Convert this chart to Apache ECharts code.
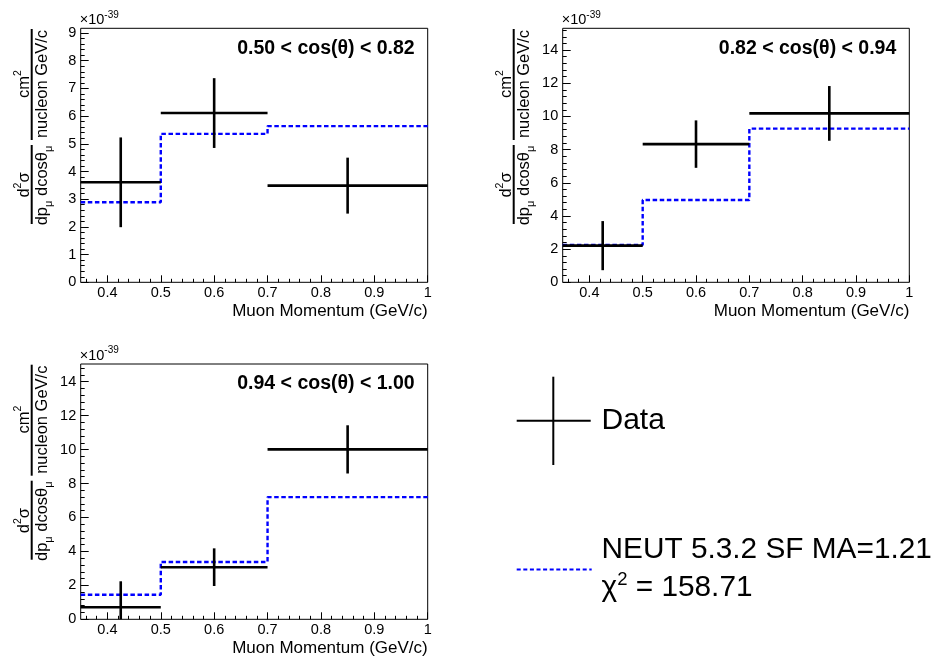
<!DOCTYPE html>
<html><head><meta charset="utf-8">
<script src="https://cdn.jsdelivr.net/npm/echarts@6/dist/echarts.min.js"></script>
<style>html,body{margin:0;padding:0;background:#fff}#c{width:940px;height:664px}</style>
</head><body><div id="c"></div>
<script>
// ---------------- data ----------------
const binLow = [0.35, 0.50, 0.70];
const binHigh = [0.50, 0.70, 1.00];
const binCenter = [0.425, 0.60, 0.85];
const panelLabels = ['0.50 < cos(θ) < 0.82', '0.82 < cos(θ) < 0.94', '0.94 < cos(θ) < 1.00'];
const dataA = [3.61, 6.11, 3.49];
const errA = [1.62, 1.26, 1.01];
const mcA = [2.89, 5.36, 5.64];
const dataB = [2.21, 8.33, 10.18];
const errB = [1.48, 1.43, 1.65];
const mcB = [2.25, 4.96, 9.26];
const dataC = [0.71, 3.07, 10.01];
const errC = [1.53, 1.11, 1.42];
const mcC = [1.45, 3.38, 7.20];
const xMin = 0.35, xMax = 1.0;
const yMaxes = [9.17, 15.31, 15.04];
const xTickValues = [0.4, 0.5, 0.6, 0.7, 0.8, 0.9, 1];
const yTicksA = [0, 1, 2, 3, 4, 5, 6, 7, 8, 9];
const yTicksBC = [0, 2, 4, 6, 8, 10, 12, 14];
const xTitle = 'Muon Momentum (GeV/c)';
const legendDataName = 'Data';
const legendModelName = 'NEUT 5.3.2 SF MA=1.21';
const chi2Value = '158.71';

// ---------------- layout / style ----------------
const FONT = '"Liberation Sans", Arial, Helvetica, sans-serif';
const frames = [
  {left: 80.7, top: 28.3, width: 347, height: 254},
  {left: 562.7, top: 28.3, width: 346.6, height: 254},
  {left: 80.7, top: 364, width: 347, height: 255.3}
];
const panels = [
  {data: dataA, err: errA, mc: mcA, yTicks: yTicksA, minorStep: 0.2},
  {data: dataB, err: errB, mc: mcB, yTicks: yTicksBC, minorStep: 0.4},
  {data: dataC, err: errC, mc: mcC, yTicks: yTicksBC, minorStep: 0.4}
];

function minorValues(lo, hi, step, majors) {
  const out = [];
  for (let k = Math.ceil(lo / step - 1e-9); k * step <= hi + 1e-9; k++) {
    const v = Math.round(k * step * 1000) / 1000;
    if (majors.indexOf(v) < 0 && v > lo && v < hi) out.push(v);
  }
  return out;
}

const grid = [], xAxis = [], yAxis = [], series = [], graphic = [];

panels.forEach((p, i) => {
  const f = frames[i];
  grid.push({left: f.left, top: f.top, width: f.width, height: f.height, show: true,
    borderColor: '#000', borderWidth: 1, backgroundColor: 'transparent', containLabel: false});
  const yMax = yMaxes[i];
  xAxis.push({gridIndex: i, type: 'value', min: xMin, max: xMax, position: 'bottom',
    axisLine: {show: false}, splitLine: {show: false},
    axisTick: {show: true, inside: true, length: 7, lineStyle: {color: '#000', width: 1}, customValues: xTickValues},
    axisLabel: {show: true, margin: 3, fontSize: 14.5, fontFamily: FONT, color: '#000', customValues: xTickValues,
      formatter: v => String(v)}
  });
  xAxis.push({gridIndex: i, type: 'value', min: xMin, max: xMax, position: 'bottom',
    axisLine: {show: false}, splitLine: {show: false}, axisLabel: {show: false},
    axisTick: {show: true, inside: true, length: 3.5, lineStyle: {color: '#000', width: 1},
      customValues: minorValues(xMin, xMax, 0.02, xTickValues)}
  });
  yAxis.push({gridIndex: i, type: 'value', min: 0, max: yMax, position: 'left',
    axisLine: {show: false}, splitLine: {show: false},
    axisTick: {show: true, inside: true, length: 8, lineStyle: {color: '#000', width: 1}, customValues: p.yTicks},
    axisLabel: {show: true, margin: 4.5, fontSize: 14.5, fontFamily: FONT, color: '#000', customValues: p.yTicks}
  });
  yAxis.push({gridIndex: i, type: 'value', min: 0, max: yMax, position: 'left',
    axisLine: {show: false}, splitLine: {show: false}, axisLabel: {show: false},
    axisTick: {show: true, inside: true, length: 4, lineStyle: {color: '#000', width: 1},
      customValues: minorValues(0, yMax, p.minorStep, p.yTicks)}
  });

  const mcPts = [];
  p.mc.forEach((v, k) => { mcPts.push([binLow[k], v]); mcPts.push([binHigh[k], v]); });
  series.push({type: 'line', xAxisIndex: 2 * i, yAxisIndex: 2 * i, data: mcPts, symbol: 'none',
    showSymbol: false, silent: true, z: 2,
    lineStyle: {color: '#0000ff', width: 2.4, type: [4.5, 2.6]}});

  series.push({type: 'custom', xAxisIndex: 2 * i, yAxisIndex: 2 * i, z: 3, silent: true,
    data: p.data.map((v, k) => [binCenter[k], v, binLow[k], binHigh[k], p.err[k]]),
    encode: {x: [0, 2, 3], y: 1},
    renderItem: (params, api) => {
      const xc = api.value(0), y = api.value(1), lo = api.value(2), hi = api.value(3), e = api.value(4);
      const a = api.coord([lo, y]), b = api.coord([hi, y]);
      const t = api.coord([xc, y + e]), d = api.coord([xc, y - e]);
      const cs = params.coordSys;
      const top = Math.max(t[1], cs.y), bot = Math.min(d[1], cs.y + cs.height);
      const st = {stroke: '#000', lineWidth: 2.6};
      return {type: 'group', children: [
        {type: 'line', shape: {x1: a[0], y1: a[1], x2: b[0], y2: b[1]}, style: st},
        {type: 'line', shape: {x1: t[0], y1: top, x2: d[0], y2: bot}, style: st}
      ]};
    }
  });

  const right = f.left + f.width, bottom = f.top + f.height;
  graphic.push({type: 'text', x: right - 13, y: f.top + 20,
    style: {text: panelLabels[i], fill: '#000', fontSize: 19.5, fontWeight: 'bold', fontFamily: FONT,
      align: 'right', verticalAlign: 'middle'}});
  graphic.push({type: 'text', x: right, y: bottom + 29.4,
    style: {text: xTitle, fill: '#000', fontSize: 17, fontFamily: FONT, align: 'right', verticalAlign: 'middle'}});
  graphic.push({type: 'text', x: f.left - 1, y: f.top - 8.5,
    style: {text: '{n|×10}{p|-39}', align: 'left', verticalAlign: 'middle', fontFamily: FONT,
      rich: {n: {fontSize: 14.5, fontFamily: FONT, fill: '#000', lineHeight: 20},
             p: {fontSize: 10, fontFamily: FONT, fill: '#000', lineHeight: 6, verticalAlign: 'top'}}}});
  const richY = {
    n: {fontSize: 16.5, fontFamily: FONT, fill: '#000', lineHeight: 24},
    p: {fontSize: 10.5, fontFamily: FONT, fill: '#000', lineHeight: 8, verticalAlign: 'top'},
    s: {fontSize: 11, fontFamily: FONT, fill: '#000', lineHeight: 3, verticalAlign: 'bottom'}
  };
  const tstyle = (txt) => ({text: txt, rich: richY, fontFamily: FONT, fontSize: 16.5, align: 'center', verticalAlign: 'middle', fill: '#000'});
  graphic.push({type: 'group', x: f.left - 49, y: f.top + 195.7, rotation: Math.PI / 2, children: [
    {type: 'line', shape: {x1: 0, y1: 0, x2: 79, y2: 0}, style: {stroke: '#000', lineWidth: 2}},
    {type: 'line', shape: {x1: 84, y1: 0, x2: 195, y2: 0}, style: {stroke: '#000', lineWidth: 2}},
    {type: 'text', x: 39, y: -7.5, style: tstyle('{n|d}{p|2}{n|σ}')},
    {type: 'text', x: 38.5, y: 10.5, style: tstyle('{n|dp}{s|μ}{n| dcosθ}{s|μ}')},
    {type: 'text', x: 140, y: -7.5, style: tstyle('{n|cm}{p|2}')},
    {type: 'text', x: 140, y: 10.5, style: tstyle('{n|nucleon GeV/c}')}
  ]});
});

// legend
graphic.push({type: 'line', shape: {x1: 516.7, y1: 420.7, x2: 590.7, y2: 420.7}, style: {stroke: '#000', lineWidth: 2}});
graphic.push({type: 'line', shape: {x1: 553.3, y1: 376.7, x2: 553.3, y2: 465}, style: {stroke: '#000', lineWidth: 2}});
graphic.push({type: 'text', x: 601.5, y: 420.5, style: {text: legendDataName, fill: '#000', fontSize: 30, fontFamily: FONT,
  align: 'left', verticalAlign: 'middle'}});
graphic.push({type: 'line', shape: {x1: 516.7, y1: 569.5, x2: 591.7, y2: 569.5},
  style: {stroke: '#0000ff', lineWidth: 2, lineDash: [4, 2.6]}});
graphic.push({type: 'text', x: 601.5, y: 549.5, style: {text: legendModelName, fill: '#000', fontSize: 29.8, fontFamily: FONT,
  align: 'left', verticalAlign: 'middle'}});
graphic.push({type: 'text', x: 601.5, y: 588, style: {text: '{n|χ}{p|2}{n| = ' + chi2Value + '}', fontFamily: FONT, fontSize: 29.8,
  align: 'left', verticalAlign: 'middle',
  rich: {n: {fontSize: 29.8, fontFamily: FONT, fill: '#000', lineHeight: 36},
         p: {fontSize: 18.5, fontFamily: FONT, fill: '#000', lineHeight: 20, verticalAlign: 'top'}}}});

const chart = echarts.init(document.getElementById('c'), null, {renderer: 'canvas'});
chart.setOption({animation: false, backgroundColor: '#fff', grid, xAxis, yAxis, series, graphic});
</script></body></html>
